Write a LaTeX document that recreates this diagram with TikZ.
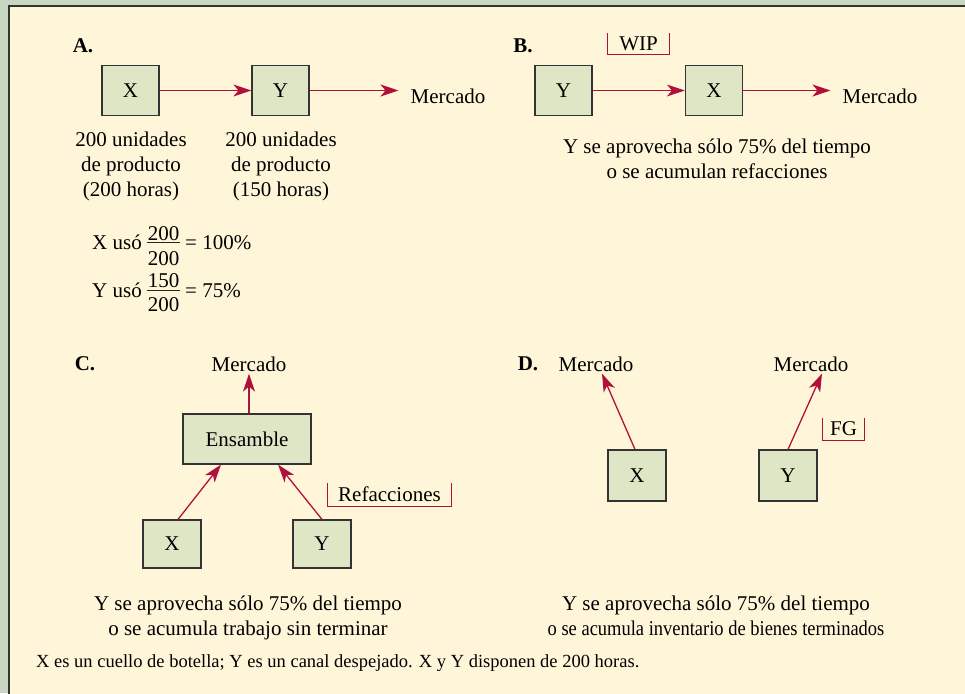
\documentclass[tikz,border=0pt]{standalone}
\usepackage{fontspec}
\usepackage{graphicx}
\setmainfont{Liberation Serif}
\usetikzlibrary{arrows.meta}
\definecolor{bgout}{HTML}{C8D8C0}
\definecolor{panel}{HTML}{FFF6DA}
\definecolor{boxfill}{HTML}{DFE6C6}
\definecolor{arr}{HTML}{B0103C}
\tikzset{
 stbox/.style={draw=black!80, line width=1.2pt, fill=boxfill, minimum width=57pt, minimum height=50pt, inner sep=0pt, font=\fontsize{21}{25}\selectfont},
 lbl/.style={font=\fontsize{21}{25}\selectfont, inner sep=2pt},
 para/.style={font=\fontsize{21}{25}\selectfont, align=center, inner sep=0pt, anchor=north},
 flow/.style={draw=arr, line width=1.3pt, -{Stealth[length=18pt,width=12pt,inset=5pt]}},
 tag/.style={font=\fontsize{21}{25}\selectfont, inner sep=0pt},
 tagline/.style={draw=arr, line width=1.2pt},
 head/.style={font=\fontsize{21}{25}\selectfont\bfseries, inner sep=0pt},
 fr/.style={font=\fontsize{21}{25}\selectfont, inner sep=0pt},
}
\begin{document}
\begin{tikzpicture}[x=1pt,y=-1pt]
\useasboundingbox (0,0) rectangle (965,693);
\fill[bgout] (0,0) rectangle (965,693);
\fill[panel] (9,6) rectangle (966,694);
\draw[black!80, line width=1.3pt] (9,694) -- (9,6) -- (966,6);

% ---- A
\node[head] (hA) at (83,46) {A.};
\node[stbox] (xA) at (130.5,90.5) {X};
\node[stbox] (yA) at (280.5,90.5) {Y};
\node[lbl] (mA) at (448,96) {Mercado};
\draw[flow] (xA) -- (yA);
\draw[flow] (yA.east) -- ([xshift=-10pt]yA.east -| mA.west);
\node[para] (tXA) at (131,132) {200 unidades\\de producto\\(200 horas)};
\node[para] (tYA) at (281,132) {200 unidades\\de producto\\(150 horas)};
% fractions
\node[fr, anchor=base west] (uX) at (92,249) {X usó};
\node[fr, anchor=base] (nX) at (163.5,240) {200};
\node[fr, anchor=base] (dX) at (163.5,265) {200};
\draw[line width=0.9pt, black!85] ([xshift=-1pt,yshift=-2.5pt]nX.south west) -- ([xshift=1pt,yshift=-2.5pt]nX.south east);
\node[fr, anchor=base west] (eX) at (185,249) {= 100\%};
\node[fr, anchor=base west] (uY) at (92,297) {Y usó};
\node[fr, anchor=base] (nY) at (163.5,287) {150};
\node[fr, anchor=base] (dY) at (163.5,311) {200};
\draw[line width=0.9pt, black!85] ([xshift=-1pt,yshift=-3pt]nY.south west) -- ([xshift=1pt,yshift=-3pt]nY.south east);
\node[fr, anchor=base west] (eY) at (185,297) {= 75\%};

% ---- B
\node[head] (hB) at (523,46) {B.};
\node[stbox] (yB) at (563.5,90.5) {Y};
\node[stbox] (xB) at (714,90.5) {X};
\node[lbl] (mB) at (880,96) {Mercado};
\draw[flow] (yB) -- (xB);
\draw[flow] (xB.east) -- ([xshift=-10pt]xB.east -| mB.west);
\node[tag, minimum width=61pt, minimum height=21pt] (wip) at (638.5,43.5) {WIP};
\draw[tagline] (wip.north west) -- (wip.south west) -- (wip.south east) -- (wip.north east);
\node[para] (tB) at (717,139) {Y se aprovecha sólo 75\% del tiempo\\o se acumulan refacciones};

% ---- C
\node[head] (hC) at (85,364) {C.};
\node[lbl] (mC) at (249,364) {Mercado};
\node[stbox, minimum width=128pt] (ens) at (247,439) {Ensamble};
\node[stbox, minimum width=58pt, minimum height=48pt] (xC) at (172,544) {X};
\node[stbox, minimum width=58pt, minimum height=48pt] (yC) at (322,544) {Y};
\draw[flow] (ens.north -| mC) -- (mC.south);
\draw[flow] ([xshift=6pt]xC.north) -- ([xshift=-26pt]ens.south);
\draw[flow] (yC.north) -- ([xshift=31pt]ens.south);
\node[tag, minimum width=123pt, minimum height=23pt] (ref) at (389.5,494.5) {Refacciones};
\draw[tagline] (ref.north west) -- (ref.south west) -- (ref.south east) -- (ref.north east);
\node[para] (tC) at (248,596) {Y se aprovecha sólo 75\% del tiempo\\o se acumula trabajo sin terminar};

% ---- D
\node[head] (hD) at (528,364) {D.};
\node[lbl] (mD1) at (596,364) {Mercado};
\node[lbl] (mD2) at (811,364) {Mercado};
\node[stbox, minimum width=58pt, minimum height=51pt] (xD) at (637,475.5) {X};
\node[stbox, minimum width=58pt, minimum height=51pt] (yD) at (788,475.5) {Y};
\draw[flow] ([xshift=-2pt]xD.north) -- ([xshift=6pt]mD1.south);
\draw[flow] (yD.north) -- ([xshift=11pt]mD2.south);
\node[tag, minimum width=41pt, minimum height=22pt] (fg) at (843.5,429) {FG};
\draw[tagline] (fg.north west) -- (fg.south west) -- (fg.south east) -- (fg.north east);
\node[para] (tD) at (716,596) {Y se aprovecha sólo 75\% del tiempo\\\scalebox{0.88}[1]{o se acumula inventario de bienes terminados}};

% ---- note
\node[font=\fontsize{18.5}{22}\selectfont, anchor=west, inner sep=0pt] (note) at (36,663) {X es un cuello de botella; Y es un canal despejado. X y Y disponen de 200 horas.};
\end{tikzpicture}
\end{document}
